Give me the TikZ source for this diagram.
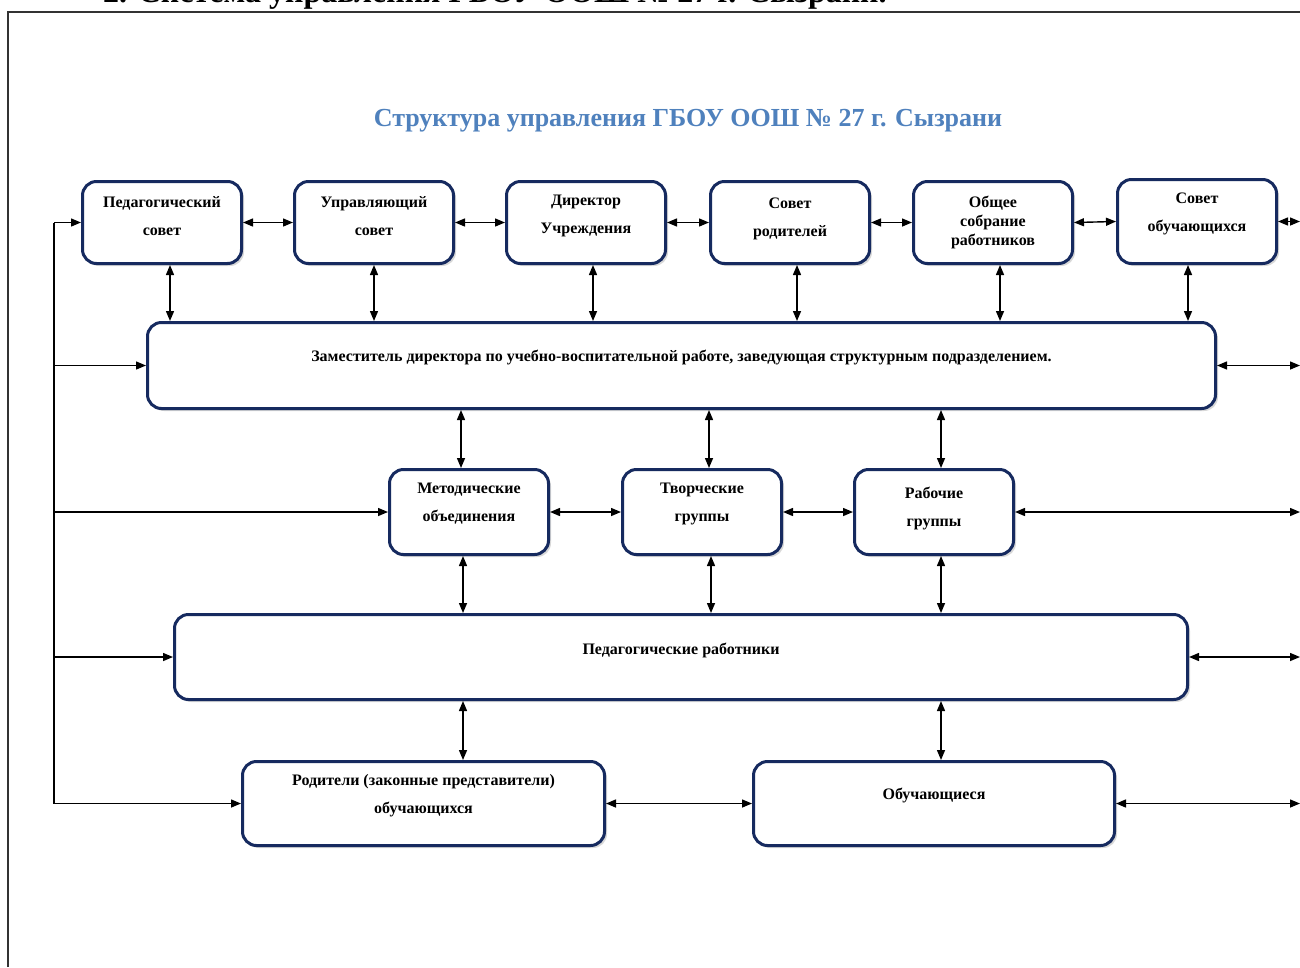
\documentclass[tikz,border=0pt]{standalone}
\usepackage{fontspec}
\setmainfont{Liberation Serif}
\usetikzlibrary{arrows.meta,shadows,calc}
\definecolor{navy}{RGB}{22,42,95}
\definecolor{titleblue}{RGB}{79,129,189}
\tikzset{
  box/.style={draw=navy, line width=3pt, rounded corners=14pt, fill=white,
    drop shadow={opacity=0.3, shadow xshift=2.5pt, shadow yshift=-2.5pt}},
  txt/.style={align=center, font=\fontsize{16}{28}\selectfont\bfseries, inner sep=0pt},
  dbl/.style={{Triangle[length=10pt,width=8pt]}-{Triangle[length=10pt,width=8pt]}, line width=1.4pt},
  sgl/.style={-{Triangle[length=10pt,width=8pt]}, line width=1.4pt},
  bus/.style={line width=1.4pt}
}
\begin{document}
\begin{tikzpicture}[x=1pt,y=-1pt]
\useasboundingbox (0,0) rectangle (1300,967);
\clip (0,0) rectangle (1300,967);
\fill[white] (0,0) rectangle (1300,967);
% heading cut off at top
\node[anchor=base west, inner sep=0pt, font=\fontsize{32}{36}\selectfont\bfseries] (head) at (103,2) {2. Система управления ГБОУ ООШ № 27 г. Сызрани.};
% frame
\draw[line width=1.5pt, black!80] (8,967) -- (8,12) -- (1300,12);
% title
\node[font=\fontsize{26}{30}\selectfont\bfseries, text=titleblue] (title) at (688,121) {Структура управления ГБОУ ООШ № 27 г. Сызрани};
% row 1
\node[box, minimum width=159pt, minimum height=82pt] (P1) at (162,222.5) {};
\node[box, minimum width=159pt, minimum height=82pt] (P2) at (374,222.5) {};
\node[box, minimum width=159pt, minimum height=82pt] (P3) at (586,222.5) {};
\node[box, minimum width=159pt, minimum height=82pt] (P4) at (790,222.5) {};
\node[box, minimum width=159pt, minimum height=82pt] (P5) at (993,222.5) {};
\node[box, minimum width=159pt, minimum height=84pt] (P6) at (1197,221.5) {};
\node[txt] (P1t) at ([yshift=6.5pt]P1.center) {Педагогический\\совет};
\node[txt] (P2t) at ([yshift=6.5pt]P2.center) {Управляющий\\совет};
\node[txt] (P3t) at ([yshift=6.5pt]P3.center) {Директор\\Учреждения};
\node[txt] (P4t) at ([yshift=4pt]P4.center) {Совет\\родителей};
\node[txt, font=\fontsize{16}{19}\selectfont\bfseries] (P5t) at ([yshift=0pt]P5.center) {Общее\\собрание\\работников};
\node[txt] (P6t) at ([yshift=7.5pt]P6.center) {Совет\\обучающихся};
% row 2
\node[box, minimum width=1068pt, minimum height=86pt] (Z) at (681.5,365.5) {};
\node[txt] (Zt) at ([yshift=8.5pt]Z.center) {Заместитель директора по учебно-воспитательной работе, заведующая структурным подразделением.};
% row 3
\node[box, minimum width=159pt, minimum height=85pt] (M) at (469,512) {};
\node[box, minimum width=159pt, minimum height=85pt] (T) at (702,512) {};
\node[box, minimum width=159pt, minimum height=85pt] (Rg) at (934,512) {};
\node[txt] (Mt) at ([yshift=8pt]M.center) {Методические\\объединения};
\node[txt] (Tt) at ([yshift=8pt]T.center) {Творческие\\группы};
\node[txt] (Rgt) at ([yshift=4pt]Rg.center) {Рабочие\\группы};
% row 4
\node[box, minimum width=1013pt, minimum height=85pt] (PR) at (681,657) {};
\node[txt] (PRt) at ([yshift=7pt]PR.center) {Педагогические работники};
% row 5
\node[box, minimum width=362pt, minimum height=84pt] (Rod) at (423.5,803.5) {};
\node[box, minimum width=361pt, minimum height=84pt] (Ob) at (934,803.5) {};
\node[txt] (Rodt) at ([yshift=7.5pt]Rod.center) {Родители (законные представители)\\обучающихся};
\node[txt] (Obt) at ([yshift=8.5pt]Ob.center) {Обучающиеся};
% column coordinates
\coordinate (L) at (54,0);
\coordinate (R) at (1300,0);
\coordinate (x170) at (170,0);
\coordinate (x374) at (374,0);
\coordinate (x593) at (593,0);
\coordinate (x797) at (797,0);
\coordinate (x1000) at (1000,0);
\coordinate (x1188) at (1188,0);
\coordinate (x461) at (461,0);
\coordinate (x709) at (709,0);
\coordinate (x941) at (941,0);
\coordinate (x463) at (463,0);
\coordinate (x711) at (711,0);
% row 1 horizontal
\draw[dbl] (P1.east) -- (P2.west);
\draw[dbl] (P2.east) -- (P3.west);
\draw[dbl] (P3.east) -- (P4.west);
\draw[dbl] (P4.east) -- (P5.west);
\draw[dbl] (P5.east) -- (P6.west);
% row 1 to Z
\draw[dbl] (P1.south -| x170) -- (Z.north -| x170);
\draw[dbl] (P2.south -| x374) -- (Z.north -| x374);
\draw[dbl] (P3.south -| x593) -- (Z.north -| x593);
\draw[dbl] (P4.south -| x797) -- (Z.north -| x797);
\draw[dbl] (P5.south -| x1000) -- (Z.north -| x1000);
\draw[dbl] (P6.south -| x1188) -- (Z.north -| x1188);
% Z to row 3
\draw[dbl] (Z.south -| x461) -- (M.north -| x461);
\draw[dbl] (Z.south -| x709) -- (T.north -| x709);
\draw[dbl] (Z.south -| x941) -- (Rg.north -| x941);
% row 3 horizontal
\draw[dbl] (M.east) -- (T.west);
\draw[dbl] (T.east) -- (Rg.west);
% row 3 to PR
\draw[dbl] (M.south -| x463) -- (PR.north -| x463);
\draw[dbl] (T.south -| x711) -- (PR.north -| x711);
\draw[dbl] (Rg.south -| x941) -- (PR.north -| x941);
% PR to row 5
\draw[dbl] (PR.south -| x463) -- (Rod.north -| x463);
\draw[dbl] (PR.south -| x941) -- (Ob.north -| x941);
% row 5 horizontal
\draw[dbl] (Rod.east) -- (Ob.west);
% left bus
\draw[bus] (L |- P1.west) -- (L |- Rod.west);
\draw[sgl] (L |- P1.west) -- (P1.west);
\draw[sgl] (L |- Z.west) -- (Z.west);
\draw[sgl] (L |- M.west) -- (M.west);
\draw[sgl] (L |- PR.west) -- (PR.west);
\draw[sgl] (L |- Rod.west) -- (Rod.west);
% right side
\draw[dbl] (P6.east) -- (R |- P6.east);
\draw[dbl] (Z.east) -- (R |- Z.east);
\draw[dbl] (Rg.east) -- (R |- Rg.east);
\draw[dbl] (PR.east) -- (R |- PR.east);
\draw[dbl] (Ob.east) -- (R |- Ob.east);
\end{tikzpicture}
\end{document}
